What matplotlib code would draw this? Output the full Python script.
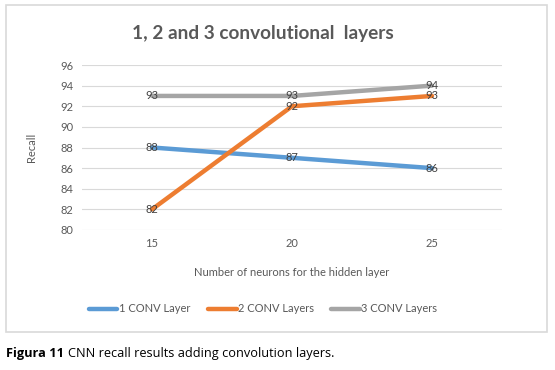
import matplotlib.pyplot as plt
from matplotlib.patches import Rectangle

neurons = ['15', '20', '25']
conv1 = [88, 87, 86]
conv2 = [82, 92, 93]
conv3 = [93, 93, 94]
series_names = ['1 CONV Layer', '2 CONV Layers', '3 CONV Layers']
colors = ['#5B9BD5', '#ED7D31', '#A5A5A5']
yticks = [80, 82, 84, 86, 88, 90, 92, 94, 96]

plt.rcParams['font.family'] = ['Lato', 'DejaVu Sans']

fig = plt.figure(figsize=(5.55, 3.70), dpi=100)
fig.patches.append(Rectangle((6 / 555, 1 - 332 / 370), 541 / 555, 327 / 370,
                             transform=fig.transFigure, fill=False,
                             edgecolor='#D9D9D9', linewidth=1.2))

ax = fig.add_axes([82 / 555, 1 - 230 / 370, 420 / 555, 165 / 370])
x = range(len(neurons))
for vals, name, c in zip([conv1, conv2, conv3], series_names, colors):
    ax.plot(x, vals, color=c, linewidth=3.2, label=name, solid_capstyle='round')
    for xi, v in zip(x, vals):
        ax.text(xi, v, str(v), ha='center', va='center', fontsize=8, color='#404040')

ax.set_xlim(-0.5, 2.5)
ax.set_ylim(80, 96)
ax.set_yticks(yticks)
ax.set_xticks(list(x))
ax.set_xticklabels(neurons)
ax.grid(axis='y', color='#D9D9D9', linewidth=0.8)
ax.set_axisbelow(True)
for s in ax.spines.values():
    s.set_visible(False)
ax.tick_params(length=0, labelsize=8, colors='#595959', pad=6)
ax.set_ylabel('Recall', fontsize=8, color='#595959', labelpad=17)
ax.set_xlabel('Number of neurons for the hidden layer', fontsize=8, color='#595959', labelpad=13)

fig.text(263 / 555, 1 - 33 / 370, '1, 2 and 3 convolutional  layers', ha='center', va='center',
         fontsize=13.7, fontweight='bold', color='#595959')

handles, labels = ax.get_legend_handles_labels()
fig.legend(handles, labels, loc='center', bbox_to_anchor=(263 / 555, 1 - 309 / 370), ncol=3,
           frameon=False, fontsize=8, handlelength=2.6, columnspacing=1.6, handletextpad=0.1,
           labelcolor='#595959')

cap1 = fig.text(6 / 555, 1 - 354 / 370, 'Figura 11', ha='left', va='center', fontsize=9.2,
                fontweight='bold', family=['Open Sans', 'DejaVu Sans'])
fig.canvas.draw()
bb = cap1.get_window_extent()
fig.text((bb.x1 + 4) / 555, 1 - 354 / 370, 'CNN recall results adding convolution layers.',
         ha='left', va='center', fontsize=9.2, family=['Open Sans', 'DejaVu Sans'])

fig.savefig('out.png', dpi=100, facecolor='white')
